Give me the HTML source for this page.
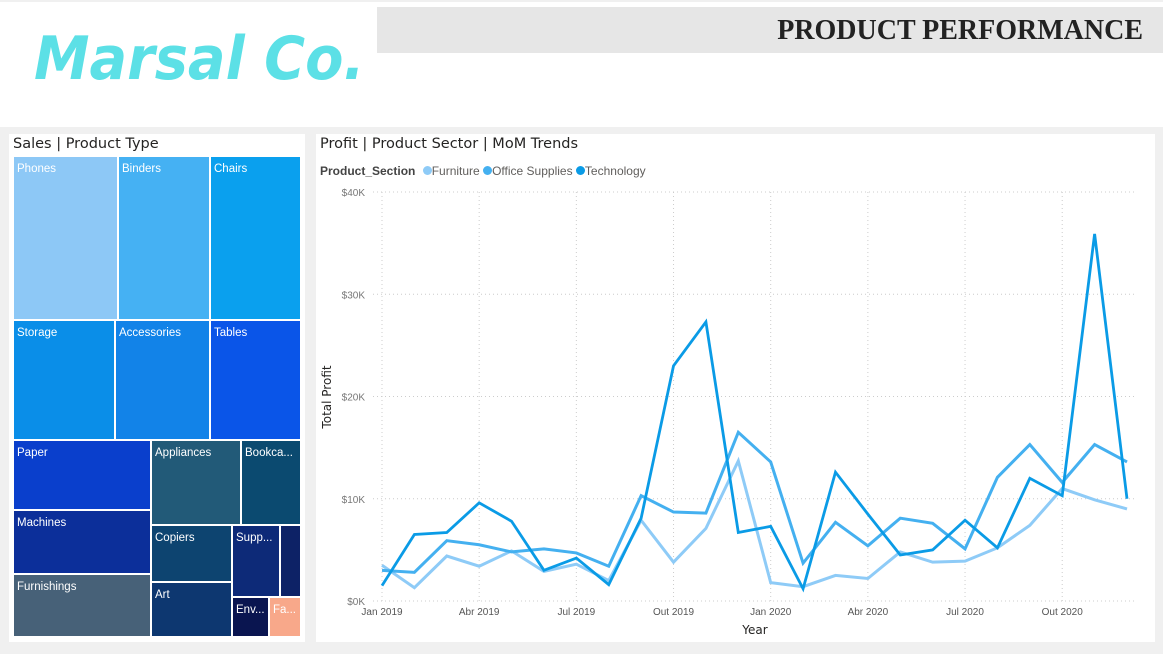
<!DOCTYPE html>
<html><head><meta charset="utf-8"><style>
body{margin:0;width:1163px;height:654px;background:#f0f0f0;position:relative;overflow:hidden;font-family:"Segoe UI","DejaVu Sans","Liberation Sans",sans-serif}
.abs{position:absolute}
.cell{position:absolute;box-sizing:border-box;color:#fff;font-size:11.5px;padding:6px 0 0 3px;white-space:nowrap;overflow:hidden;font-family:"Liberation Sans",sans-serif}
.leg{margin-left:4px}
</style></head><body>
<div class="abs" style="left:0;top:2px;width:1163px;height:125px;background:#fff"></div>
<div class="abs" style="left:34px;top:24px;font-family:'DejaVu Sans',sans-serif;font-style:italic;font-weight:bold;font-size:60px;color:#5ce0e6;transform:scaleX(0.93);transform-origin:left top;white-space:nowrap">Marsal Co.</div>
<div class="abs" style="left:377px;top:7px;width:786px;height:46px;background:#e6e6e6"></div>
<div class="abs" style="right:20px;top:15px;font-family:'Liberation Serif',serif;font-weight:bold;font-size:28px;color:#222">PRODUCT PERFORMANCE</div>

<div class="abs" style="left:9px;top:134px;width:296px;height:508px;background:#fff"></div>
<div class="abs" style="left:13px;top:136px;font-size:14.5px;color:#252423">Sales | Product Type</div>
<div id="tm"></div>

<div class="abs" style="left:316px;top:134px;width:839px;height:508px;background:#fff"></div>
<div class="abs" style="left:320px;top:136px;font-size:14.5px;color:#252423">Profit | Product Sector | MoM Trends</div>
<div class="abs" style="left:320px;top:164px;font-size:12px;color:#605e5c;white-space:nowrap;font-family:'Liberation Sans',sans-serif">
<b style="color:#444">Product_Section</b>
<span class="leg"><span style="display:inline-block;width:9px;height:9px;border-radius:50%;background:#8ecbf7"></span>Furniture</span>
<span><span style="display:inline-block;width:9px;height:9px;border-radius:50%;background:#44b0f0"></span>Office Supplies</span>
<span><span style="display:inline-block;width:9px;height:9px;border-radius:50%;background:#0a9be6"></span>Technology</span>
</div>
<svg id="chart" class="abs" style="left:0;top:0" width="1163" height="654"></svg>

<script>
const tmNames=["Phones","Binders","Chairs","Storage","Accessories","Tables","Paper","Machines","Furnishings","Appliances","Bookca...","Copiers","Art","Supp...","","Env...","Fa..."];
const tmColors=["#8dc8f6","#45b1f3","#0aa0ee","#0a8ee8","#1283e8","#0a55e8","#0a3fcc","#0c2f9a","#476178","#225a78","#0b4a70","#0d4470","#0d3770","#0d2a78","#0d2266","#0a1550","#f8a88a"];
const tmRects=[[13,156,105,164],[118,156,92,164],[210,156,91,164],[13,320,102,120],[115,320,95,120],[210,320,91,120],[13,440,138,70],[13,510,138,64],[13,574,138,63],[151,440,90,85],[241,440,60,85],[151,525,81,57],[151,582,81,55],[232,525,48,72],[280,525,21,72],[232,597,37,40],[269,597,32,40]];
const tm=document.getElementById('tm');
tmNames.forEach((n,i)=>{const d=document.createElement('div');d.className='cell';const r=tmRects[i];
d.style.cssText=`left:${r[0]}px;top:${r[1]}px;width:${r[2]}px;height:${r[3]}px;background:${tmColors[i]};border:1px solid #fff`;
d.textContent=n;


tm.appendChild(d);});

const months=["Jan 2019","Feb 2019","Mar 2019","Abr 2019","May 2019","Jun 2019","Jul 2019","Aug 2019","Sep 2019","Out 2019","Nov 2019","Dec 2019","Jan 2020","Feb 2020","Mar 2020","Abr 2020","May 2020","Jun 2020","Jul 2020","Aug 2020","Sep 2020","Out 2020","Nov 2020","Dec 2020"];
const furniture=[3.5,1.3,4.4,3.4,4.9,2.9,3.6,2.0,7.9,3.8,7.1,13.7,1.8,1.4,2.5,2.2,4.8,3.8,3.9,5.2,7.4,11.0,9.9,9.0];
const office=[3.0,2.8,5.9,5.5,4.8,5.1,4.7,3.4,10.3,8.7,8.6,16.5,13.6,3.7,7.7,5.4,8.1,7.6,5.1,12.1,15.3,11.6,15.3,13.6];
const technology=[1.5,6.5,6.7,9.6,7.8,3.0,4.2,1.6,8.1,23.0,27.3,6.7,7.3,1.2,12.6,8.5,4.5,5.0,7.9,5.2,12.0,10.3,35.9,10.0];
const yTicks=[0,10,20,30,40];
const xTickIdx=[0,3,6,9,12,15,18,21];
const xTickLabels=["Jan 2019","Abr 2019","Jul 2019","Out 2019","Jan 2020","Abr 2020","Jul 2020","Out 2020"];
const x=i=>382+i*(1127-382)/23;
const y=v=>601-v*(601-192)/40;
const svg=document.getElementById('chart');const NS='http://www.w3.org/2000/svg';
function el(t,a,p){const e=document.createElementNS(NS,t);for(const k in a)e.setAttribute(k,a[k]);(p||svg).appendChild(e);return e;}
yTicks.forEach(t=>{const l=el('line',{x1:373,x2:1137,y1:y(t),y2:y(t),stroke:'#ccc','stroke-dasharray':'1 3'});

const tx=el('text',{x:365,y:y(t)+4,'text-anchor':'end','font-size':10,fill:'#777','font-family':'Liberation Sans,sans-serif'});tx.textContent='$'+t+'K';
});
xTickIdx.forEach((i,k)=>{const l=el('line',{x1:x(i),x2:x(i),y1:192,y2:601,stroke:'#ccc','stroke-dasharray':'1 3'});

const tx=el('text',{x:x(i),y:615,'text-anchor':'middle','font-size':10,fill:'#555','font-family':'Liberation Sans,sans-serif'});tx.textContent=xTickLabels[k];
});
const yt=el('text',{x:0,y:0,transform:'translate(331,397) rotate(-90)','text-anchor':'middle','font-size':12,fill:'#252423'});yt.textContent='Total Profit';

const xt=el('text',{x:755,y:634,'text-anchor':'middle','font-size':12,fill:'#252423'});xt.textContent='Year';

[[furniture,'#8ecbf7',3,'line-furniture'],[office,'#44b0f0',3,'line-office-supplies'],[technology,'#0a9be6',2.8,'line-technology']].forEach(s=>{
const p=el('polyline',{points:s[0].map((v,i)=>x(i)+','+y(v)).join(' '),fill:'none',stroke:s[1],'stroke-width':s[2],'stroke-linejoin':'miter'});
});
</script>
</body></html>
